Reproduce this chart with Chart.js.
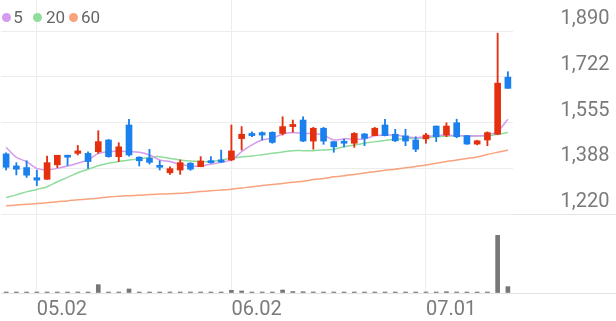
<!DOCTYPE html>
<html>
<head>
<meta charset="utf-8">
<script src="https://cdn.jsdelivr.net/npm/chart.js@4/dist/chart.umd.min.js"></script>
<style>
html,body{margin:0;padding:0;background:#ffffff;overflow:hidden;}
#wrap{position:relative;width:616px;height:321px;}
canvas{display:block;}
.lg-dot{position:absolute;width:9px;height:9px;border-radius:50%;}
.lg-txt{position:absolute;font-family:Roboto,"Noto Sans",sans-serif;font-size:17px;line-height:20px;color:#666666;white-space:nowrap;}
</style>
</head>
<body>
<div id="wrap">
  <canvas id="c" width="616" height="321"></canvas>
  <div id="legend"></div>
</div>
<script>
// ---- data ----
const dates = ['04.28','04.29','04.30','05.02','05.07','05.08','05.09','05.12','05.13','05.14',
  '05.15','05.16','05.19','05.20','05.21','05.22','05.23','05.26','05.27','05.28',
  '05.29','05.30','06.02','06.04','06.05','06.09','06.10','06.11','06.12','06.13',
  '06.16','06.17','06.18','06.19','06.20','06.23','06.24','06.25','06.26','06.27',
  '06.30','07.01','07.02','07.03','07.04','07.07','07.08','07.09','07.10','07.11'];
const shownDates = ['05.02','06.02','07.01'];

const openP  = [1440,1396,1390,1353,1347,1400,1433,1442,1442,1448,
                1491,1430,1546,1428,1424,1398,1371,1381,1406,1393,
                1415,1418,1418,1496,1515,1518,1519,1515,1540,1564,
                1487,1534,1485,1485,1479,1513,1507,1546,1512,1506,
                1491,1495,1542,1509,1554,1507,1476,1491,1512,1721];
const highP  = [1444,1408,1415,1381,1432,1435,1435,1471,1448,1525,
                1493,1481,1567,1430,1457,1415,1393,1418,1408,1430,
                1430,1454,1546,1540,1521,1521,1521,1576,1564,1576,
                1537,1537,1485,1494,1518,1515,1537,1567,1530,1530,
                1503,1515,1542,1554,1567,1507,1490,1521,1882,1741];
const lowP   = [1381,1363,1354,1324,1347,1390,1398,1436,1387,1442,
                1428,1412,1432,1396,1403,1381,1365,1365,1380,1393,
                1406,1408,1415,1454,1503,1491,1479,1509,1519,1485,
                1457,1475,1446,1466,1464,1470,1507,1506,1485,1470,
                1448,1479,1485,1503,1499,1475,1473,1470,1510,1680];
const closeP = [1391,1384,1362,1344,1408,1435,1428,1451,1412,1485,
                1430,1466,1436,1415,1409,1391,1386,1408,1384,1414,
                1408,1410,1451,1512,1507,1509,1482,1540,1548,1487,
                1534,1487,1466,1479,1515,1497,1534,1507,1488,1487,
                1457,1509,1503,1542,1503,1476,1488,1518,1699,1680];

const ma5  = [1464,1427,1412,1387,1381,1387,1396,1406,1418,1442,
              1448,1451,1448,1446,1436,1418,1412,1401,1396,1396,
              1403,1409,1418,1448,1473,1491,1497,1513,1518,1515,
              1515,1509,1491,1495,1494,1495,1506,1509,1509,1503,
              1499,1503,1507,1509,1507,1506,1506,1509,1522,1567];
const ma20 = [1280,1290,1301,1310,1320,1338,1354,1371,1384,1397,
              1406,1412,1418,1421,1428,1430,1423,1418,1414,1412,
              1412,1418,1424,1429,1432,1437,1442,1447,1452,1452,
              1452,1454,1457,1466,1473,1479,1485,1489,1494,1495,
              1497,1500,1503,1505,1507,1506,1506,1506,1512,1518];
const ma60 = [1250,1253,1256,1258,1261,1265,1268,1272,1275,1278,
              1282,1285,1287,1289,1291,1293,1294,1296,1299,1302,
              1305,1308,1311,1315,1320,1324,1328,1332,1336,1340,
              1346,1350,1356,1360,1365,1370,1375,1380,1384,1389,
              1394,1399,1406,1412,1418,1423,1429,1438,1446,1454];

const volume = [1.5,1.4,1.5,1.3,1.5,1.4,1.5,1.8,1.5,14.5,
                1.6,1.5,7.0,1.4,1.5,1.3,1.4,1.3,1.5,1.4,
                1.3,1.5,4.6,3.5,1.5,1.4,1.5,5.2,2.5,2.3,
                1.8,1.7,1.4,1.3,1.4,1.3,1.5,1.4,1.3,1.4,
                1.3,1.4,1.5,2.3,1.5,1.4,1.3,1.4,100,11];

const priceTicks = [1220, 1387.5, 1555, 1722.5, 1890];
const priceTickLabels = ['1,220','1,388','1,555','1,722','1,890'];

const legendItems = [
  {label:'5',  color:'#d49bee'},
  {label:'20', color:'#8fdc9c'},
  {label:'60', color:'#f9a27e'}
];

// ---- styles ----
const UP = '#e5300f', DOWN = '#1a80ee';
const candleColors = openP.map((o,i)=> closeP[i] >= o ? UP : DOWN);
const bodies = openP.map((o,i)=> [Math.min(o,closeP[i]), Math.max(o,closeP[i])]);
const wicks  = lowP.map((l,i)=> [l, highP[i]]);
const GRID = '#ececec';
const SEP = '#e3e3e3';
const FONT = {family:'Roboto', size:20};

// ---- legend (HTML text) ----
const lgPos = [{dot:6.3, txt:13.3},{dot:37, txt:46},{dot:73, txt:81}];
const lg = document.getElementById('legend');
legendItems.forEach((it,i)=>{
  const d = document.createElement('span');
  d.className='lg-dot'; d.style.background=it.color;
  d.style.left=(lgPos[i].dot-4.5)+'px'; d.style.top=(17.3-4.5)+'px';
  lg.appendChild(d);
  const t = document.createElement('span');
  t.className='lg-txt'; t.textContent=it.label;
  t.style.left=lgPos[i].txt+'px'; t.style.top='7px';
  lg.appendChild(t);
});

// ---- chart ----
const chart = new Chart(document.getElementById('c'), {
  type:'bar',
  data:{
    labels: dates,
    datasets:[
      {type:'bar', label:'body', data:bodies, backgroundColor:candleColors, barThickness:6,
       grouped:false, minBarLength:2, order:0, yAxisID:'y'},
      {type:'bar', label:'wick', data:wicks, backgroundColor:candleColors, barThickness:1.2,
       grouped:false, order:1, yAxisID:'y'},
      {type:'line', label:'5', data:ma5, borderColor:'#d49bee', borderWidth:1.5, pointRadius:0,
       tension:0.25, order:2, yAxisID:'y'},
      {type:'line', label:'20', data:ma20, borderColor:'#8fdc9c', borderWidth:1.5, pointRadius:0,
       tension:0.25, order:3, yAxisID:'y'},
      {type:'line', label:'60', data:ma60, borderColor:'#f9a27e', borderWidth:1.5, pointRadius:0,
       tension:0.25, order:4, yAxisID:'y'},
      {type:'bar', label:'vol', data:volume, backgroundColor:'#777777', barThickness:4,
       grouped:false, minBarLength:1, order:5, yAxisID:'yv'}
    ]
  },
  options:{
    responsive:false,
    animation:false,
    devicePixelRatio:1,
    layout:{padding:{left:1, right:0, top:0, bottom:0}},
    plugins:{legend:{display:false}, tooltip:{enabled:false}},
    scales:{
      x:{
        type:'category',
        offset:true,
        grid:{offset:false, drawTicks:false,
              color:(ctx)=> (ctx.tick && shownDates.includes(dates[ctx.index])) ? GRID : 'rgba(0,0,0,0)'},
        border:{display:true, color:SEP, width:1},
        ticks:{autoSkip:false, maxRotation:0, minRotation:0, align:'start', padding:5,
               font:FONT, color:'#7a7a7a',
               callback:(v,i)=> shownDates.includes(dates[i]) ? dates[i] : ''},
        afterFit:(s)=>{ s.height = 28; }
      },
      y:{
        type:'linear', position:'right', stack:'main', stackWeight:214,
        min:1220, max:2003.5,
        afterBuildTicks:(s)=>{ s.ticks = priceTicks.map(v=>({value:v})); },
        grid:{color:GRID, drawTicks:true, tickLength:103,
              tickColor:(ctx)=> ctx.index===0 ? SEP : 'rgba(0,0,0,0)'},
        border:{display:false},
        ticks:{crossAlign:'near', padding:-55.5, labelOffset:-12, font:FONT, color:'#7a7a7a',
               callback:(v,i)=> priceTickLabels[i]},
        afterFit:(s)=>{ s.width = 103; }
      },
      yv:{
        type:'linear', position:'right', stack:'main', stackWeight:79,
        min:0, max:137,
        afterBuildTicks:(s)=>{ s.ticks = [{value:0}]; },
        grid:{drawOnChartArea:false, drawTicks:true, tickLength:103, tickColor:SEP},
        border:{display:false},
        ticks:{display:false},
        afterFit:(s)=>{ s.width = 103; }
      }
    }
  }
});
</script>
</body>
</html>
